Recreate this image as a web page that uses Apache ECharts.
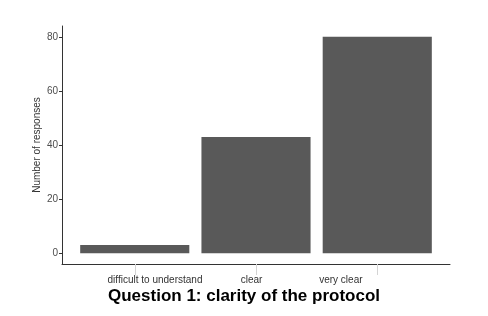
<!DOCTYPE html>
<html>
<head>
<meta charset="utf-8">
<script src="https://cdn.jsdelivr.net/npm/echarts@6/dist/echarts.min.js"></script>
<style>
html,body{margin:0;padding:0;background:#fff;}
#chart{width:488px;height:316px;}
</style>
</head>
<body>
<div id="chart"></div>
<script>
const categories = ['difficult to understand', 'clear', 'very clear'];
const responses = [3, 43, 80];
const yTicks = [0, 20, 40, 60, 80];
const titleText = 'Question 1: clarity of the protocol';
const yName = 'Number of responses';

// layout: label shift (in category units) to match reference placement
const labelShift = [0.167, -0.037, -0.30];

const catPos = categories.map((c, i) => i + 1);
const labelPos = catPos.map((p, i) => p + labelShift[i]);
const FONT = '"Liberation Sans", Arial, sans-serif';

function labelFor(v) {
  let best = 0, bd = Infinity;
  labelPos.forEach((p, i) => { const d = Math.abs(p - v); if (d < bd) { bd = d; best = i; } });
  return categories[best];
}

const chart = echarts.init(document.getElementById('chart'));
chart.setOption({
  animation: false,
  backgroundColor: '#fff',
  title: {
    text: titleText,
    left: 239,
    textAlign: 'center',
    top: 283,
    textStyle: { fontFamily: FONT, fontSize: 17, fontWeight: 'bold', color: '#000' }
  },
  grid: { left: 62, right: 38, top: 26, bottom: 52 },
  xAxis: {
    type: 'value',
    min: 0.4,
    max: 3.6,
    splitLine: { show: false },
    axisLine: { show: true, onZero: false, lineStyle: { color: '#333', width: 1 } },
    axisTick: { show: true, customValues: catPos, length: 11, lineStyle: { color: '#d4d4d4' } },
    axisLabel: {
      show: true,
      customValues: labelPos,
      formatter: (v) => labelFor(v),
      margin: 11,
      fontFamily: FONT,
      fontSize: 10,
      color: '#333'
    }
  },
  yAxis: {
    type: 'value',
    min: -4,
    max: 84,
    name: yName,
    nameLocation: 'middle',
    nameGap: 20,
    nameMoveOverlap: false,
    nameTextStyle: { fontFamily: FONT, fontSize: 10, color: '#333' },
    splitLine: { show: false },
    axisLine: { show: true, lineStyle: { color: '#333', width: 1 } },
    axisTick: { show: true, customValues: yTicks, length: 3, lineStyle: { color: '#333' } },
    axisLabel: {
      customValues: yTicks,
      margin: 4,
      fontFamily: FONT,
      fontSize: 10,
      color: '#4d4d4d'
    }
  },
  series: [{
    type: 'bar',
    data: responses.map((v, i) => [catPos[i], v]),
    barWidth: '90%',
    itemStyle: { color: '#595959' }
  }]
});
</script>
</body>
</html>
